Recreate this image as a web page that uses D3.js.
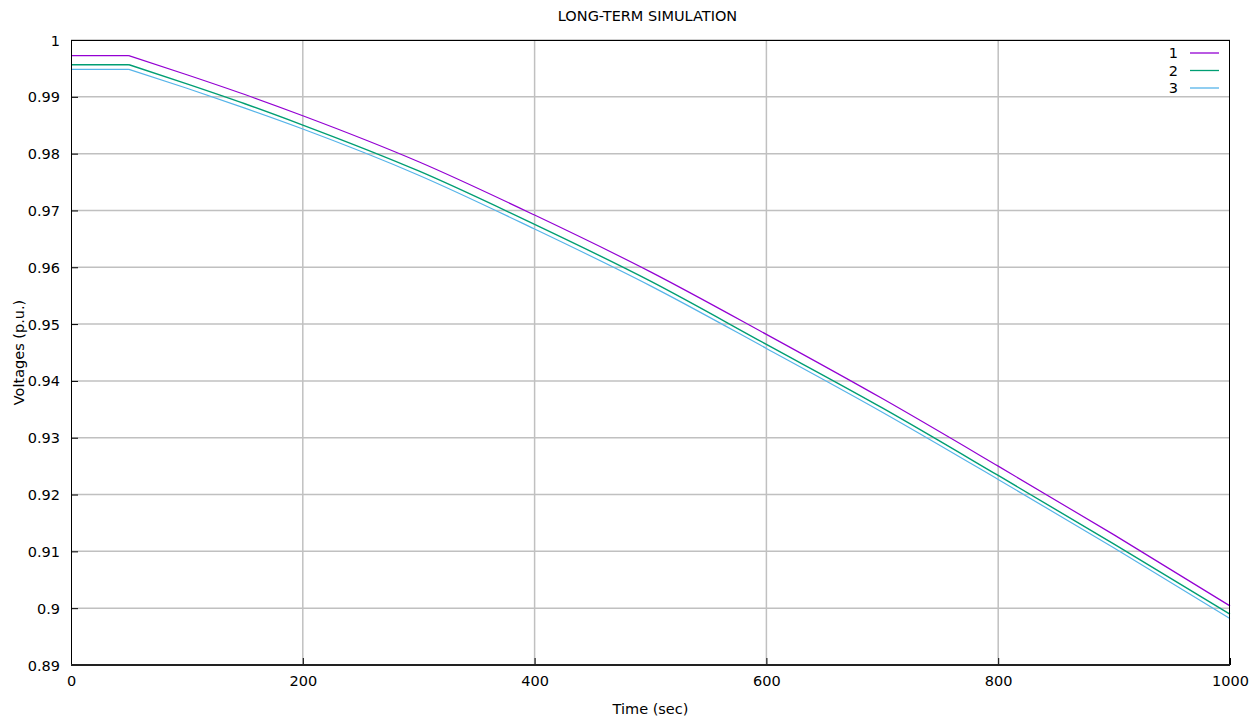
<!DOCTYPE html>
<html><head><meta charset="utf-8">
<script src="https://cdn.jsdelivr.net/npm/d3@7"></script>
<style>body{margin:0;background:#fff}svg{display:block}text{font-family:"DejaVu Sans",Verdana,sans-serif;fill:#000}</style>
</head><body><svg id="c" width="1256" height="721"></svg>
<script>
const time = [0, 50, 100, 150, 200, 300, 400, 500, 600, 700, 800, 900, 1000];
const bus1 = [0.99724, 0.99724, 0.99389, 0.99040, 0.98667, 0.97857, 0.96919, 0.95919, 0.94819, 0.93689, 0.92500, 0.91290, 0.90040];
const bus2 = [0.99565, 0.99565, 0.99228, 0.98878, 0.98503, 0.97695, 0.96755, 0.95756, 0.94643, 0.93525, 0.92336, 0.91128, 0.89894];
const bus3 = [0.99484, 0.99484, 0.99150, 0.98800, 0.98433, 0.97620, 0.96673, 0.95673, 0.94572, 0.93450, 0.92266, 0.91060, 0.89818];
const seriesNames = ["1", "2", "3"];
const seriesColors = ["#9400d3", "#009e73", "#56b4e9"];
const xTicks = [0, 200, 400, 600, 800, 1000];
const yTicks = [0.89, 0.90, 0.91, 0.92, 0.93, 0.94, 0.95, 0.96, 0.97, 0.98, 0.99, 1.00];
const rampStart = 50; // time when the voltage decline begins

const svg = d3.select("#c");
const m = {l: 71, r: 26, t: 40, b: 56};
const W = 1256, H = 721;
const x = d3.scaleLinear().domain([0, 1000]).range([m.l, W - m.r]);
const y = d3.scaleLinear().domain([0.89, 1.0]).range([H - m.b, m.t]);

// grid
const g = svg.append("g");
g.selectAll("line.h").data(yTicks.slice(1)).join("line")
  .attr("x1", m.l).attr("x2", W - m.r)
  .attr("y1", d => y(d)).attr("y2", d => y(d))
  .attr("stroke", "#c0c0c0").attr("stroke-width", 1.5);
g.selectAll("line.v").data(xTicks.slice(1, -1)).join("line")
  .attr("y1", m.t).attr("y2", H - m.b)
  .attr("x1", d => x(d)).attr("x2", d => x(d))
  .attr("stroke", "#c0c0c0").attr("stroke-width", 1.5);

// axes
const yAxis = d3.axisLeft(y).tickValues(yTicks).tickSize(-7).tickPadding(11)
  .tickFormat(d => d3.format("~g")(+d.toFixed(2)));
const ya = svg.append("g").attr("transform", `translate(${m.l},0)`).call(yAxis);
ya.select(".domain").remove();
ya.selectAll("text").attr("font-size", 14.5).attr("dy", "0.35em");
const xAxis = d3.axisBottom(x).tickValues(xTicks).tickSize(-7).tickPadding(11).tickFormat(d3.format("d"));
const xa = svg.append("g").attr("transform", `translate(0,${H - m.b})`).call(xAxis);
xa.select(".domain").remove();
xa.selectAll("text").attr("font-size", 14.5);

// series: flat part drawn straight, decline drawn smooth
const sets = [bus1, bus2, bus3];
const flatLine = d3.line().x(d => x(d[0])).y(d => y(d[1]));
const rampLine = d3.line().x(d => x(d[0])).y(d => y(d[1])).curve(d3.curveMonotoneX);
sets.forEach((vals, i) => {
  const pts = time.map((t, k) => [t, vals[k]]);
  const sw = i === 1 ? 1.4 : 1.2;
  svg.append("path").datum(pts.filter(p => p[0] <= rampStart))
    .attr("d", flatLine).attr("fill", "none")
    .attr("stroke", seriesColors[i]).attr("stroke-width", sw);
  svg.append("path").datum(pts.filter(p => p[0] >= rampStart))
    .attr("d", rampLine).attr("fill", "none")
    .attr("stroke", seriesColors[i]).attr("stroke-width", sw);
});

// frame
svg.append("rect").attr("x", m.l + 0.5).attr("y", m.t + 0.5)
  .attr("width", W - m.l - m.r - 1).attr("height", H - m.t - m.b - 1)
  .attr("fill", "none").attr("stroke", "#000").attr("stroke-width", 1);
svg.append("line").attr("x1", m.l).attr("x2", W - m.r)
  .attr("y1", H - m.b).attr("y2", H - m.b).attr("stroke", "#222").attr("stroke-width", 2);

// legend
seriesNames.forEach((n, i) => {
  const ly = 53 + i * 17.5;
  svg.append("text").attr("x", 1178).attr("y", ly).attr("dy", "0.35em")
    .attr("text-anchor", "end").attr("font-size", 14.5).text(n);
  svg.append("line").attr("x1", 1190).attr("x2", 1219).attr("y1", ly).attr("y2", ly)
    .attr("stroke", seriesColors[i]).attr("stroke-width", 1.3);
});

// titles
svg.append("text").attr("x", (m.l + W - m.r) / 2 - 3).attr("y", 21).attr("text-anchor", "middle")
  .attr("font-size", 14.5).text("LONG-TERM SIMULATION");
svg.append("text").attr("x", (m.l + W - m.r) / 2).attr("y", 714).attr("text-anchor", "middle")
  .attr("font-size", 14.5).text("Time (sec)");
svg.append("text").attr("transform", `translate(24,${(m.t + H - m.b) / 2}) rotate(-90)`)
  .attr("text-anchor", "middle").attr("font-size", 14.5).text("Voltages (p.u.)");
</script></body></html>
